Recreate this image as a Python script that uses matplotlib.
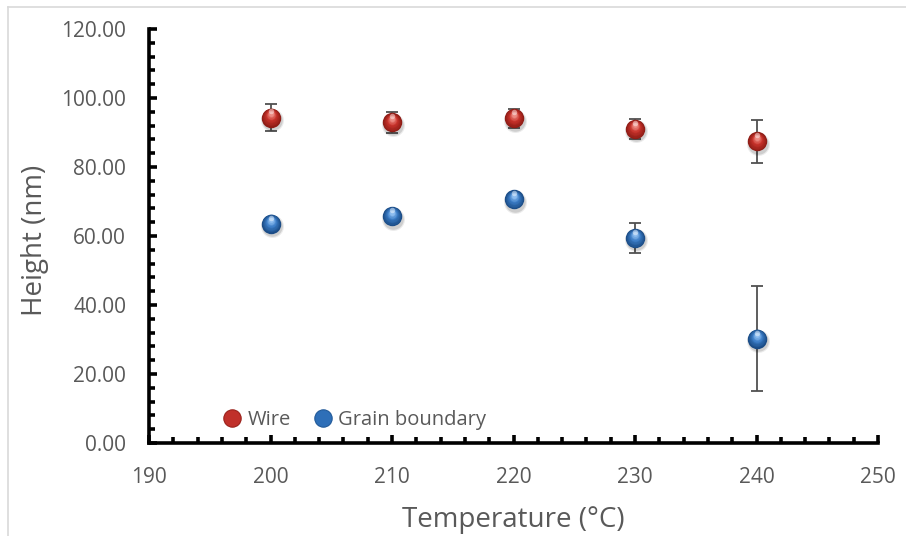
# Height vs temperature: wire and grain boundary
import numpy as np
import matplotlib
matplotlib.use('Agg')
import matplotlib.pyplot as plt
import matplotlib.transforms as mtrans
from matplotlib.colors import to_rgb
from matplotlib.lines import Line2D
from matplotlib.ticker import MultipleLocator, FormatStrFormatter

temperature = [200, 210, 220, 230, 240]
wire_height = [94.3, 92.9, 94.1, 91.0, 87.4]
wire_err = [4.0, 2.9, 2.7, 2.8, 6.2]
gb_height = [63.5, 65.7, 70.6, 59.4, 30.2]
gb_err = [1.5, 1.5, 1.5, 4.3, 15.2]

series_names = ['Wire', 'Grain boundary']

plt.rcParams['font.family'] = ['Open Sans', 'DejaVu Sans']
grey = '#595959'

fig = plt.figure(figsize=(9.06, 5.36), dpi=100)
ax = fig.add_axes([149/906, 1-443/536, (878-149)/906, (443-29)/536])

# light frame round the chart area
fig.add_artist(Line2D([8/906, 8/906], [0, 1-7/536], color='#d9d9d9', lw=1.2))
fig.add_artist(Line2D([8/906, 1.0], [1-7/536, 1-7/536], color='#d9d9d9', lw=1.2))

def shift(dx, dy):
    # offset in pixels
    return ax.transData + mtrans.ScaledTranslation(dx/100, dy/100, fig.dpi_scale_trans)

def sphere(x, y, rim, core, hi, ms=14):
    # soft shadow
    for a, g in [(0.08, 2.5), (0.12, 0.8)]:
        ax.plot(x, y, 'o', ms=ms+g, color='k', alpha=a, mec='none', zorder=3,
                transform=shift(1.2, -2.2))
    rim, core, hi = np.array(to_rgb(rim)), np.array(to_rgb(core)), np.array(to_rgb(hi))
    steps = np.linspace(0, 1, 9)
    for t in steps:
        f = 1 - 0.75*t
        c = rim + (core - rim)*min(1, t*1.6) if t < 0.6 else core + (hi - core)*(t-0.6)/0.4
        ax.plot(x, y, 'o', ms=ms*f, color=np.clip(c, 0, 1), mec='none', zorder=4,
                transform=shift(0, (1-f)*ms*0.35))
    # specular highlight near the top
    ax.plot(x, y, 'o', ms=ms*0.28, color='white', alpha=0.45, mec='none', zorder=5,
            transform=shift(0, ms*0.45))

ax.errorbar(temperature, wire_height, yerr=wire_err, fmt='none', ecolor='#505050',
            elinewidth=1.3, capsize=4.3, capthick=1.3, zorder=2)
ax.errorbar(temperature, gb_height, yerr=gb_err, fmt='none', ecolor='#505050',
            elinewidth=1.3, capsize=4.3, capthick=1.3, zorder=2)

sphere(temperature, wire_height, '#8e1c16', '#c9332b', '#ec8a82')
sphere(temperature, gb_height, '#1b4c86', '#3a7cc6', '#8cbcef')

ax.set_xlim(190, 250)
ax.set_ylim(0, 120)
ax.xaxis.set_major_locator(MultipleLocator(10))
ax.xaxis.set_minor_locator(MultipleLocator(2))
ax.yaxis.set_major_locator(MultipleLocator(20))
ax.yaxis.set_minor_locator(MultipleLocator(4))
ax.yaxis.set_major_formatter(FormatStrFormatter('%.2f'))

for s in ['top', 'right']:
    ax.spines[s].set_visible(False)
for s in ['left', 'bottom']:
    ax.spines[s].set_linewidth(2.6)
    ax.spines[s].set_capstyle('projecting')

ax.tick_params(which='major', direction='in', length=6, width=2.6,
               labelsize=15, labelcolor=grey)
ax.tick_params(which='minor', direction='in', length=4.5, width=2.6)
ax.tick_params(axis='y', pad=16.5)
ax.tick_params(axis='x', pad=17)

ax.set_xlabel('Temperature (°C)', fontsize=20, color=grey, va='baseline')
ax.xaxis.set_label_coords(0.5, -(527-443)/414)
ax.set_ylabel('Height (nm)', fontsize=20, color=grey, va='center')
ax.yaxis.set_label_coords(-(149-35.5)/729, 0.49)

handles = [Line2D([], [], marker='o', ls='none', ms=12.5, color='#c0302a', mec='#9a211b', mew=0.8),
           Line2D([], [], marker='o', ls='none', ms=12.5, color='#2e6fb8', mec='#225a99', mew=0.8)]
ax.legend(handles, series_names, loc='center left', bbox_to_anchor=(0.0892, 0.0556),
          ncol=2, frameon=False, fontsize=14.5, handletextpad=0.25, columnspacing=1.1,
          labelcolor=grey, handlelength=1.0, borderaxespad=0)

fig.savefig('out.png', dpi=100)
